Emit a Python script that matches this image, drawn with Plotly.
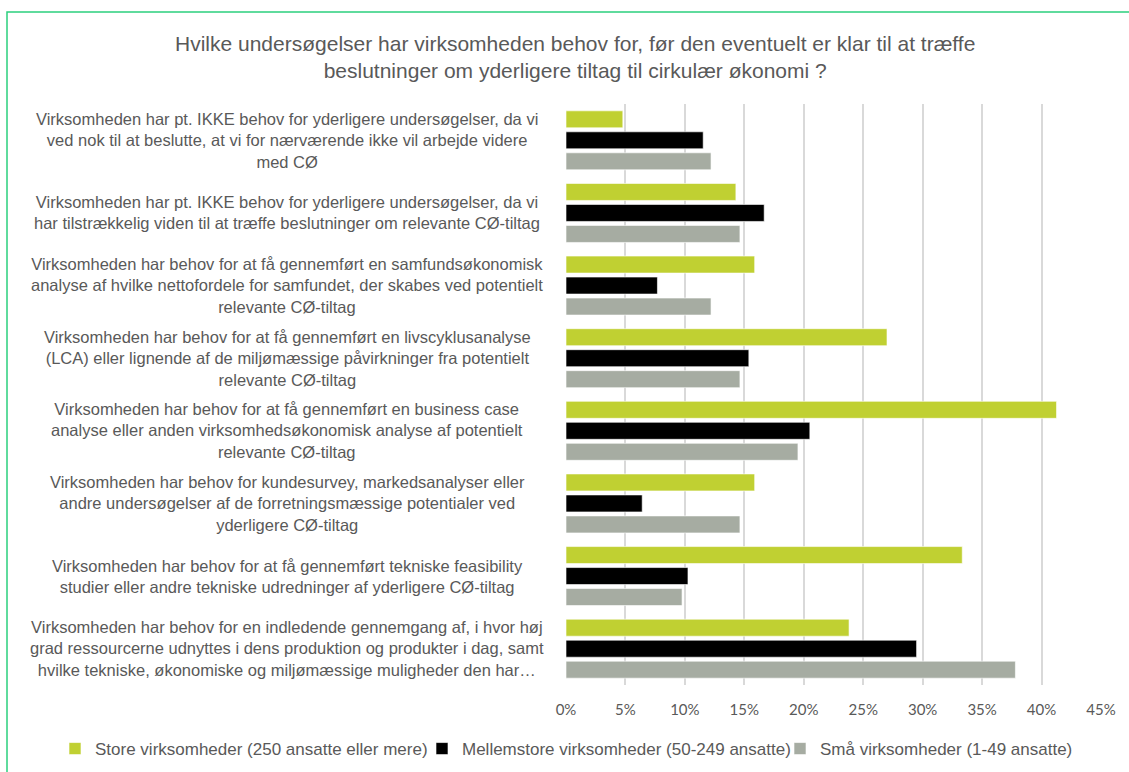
import plotly.graph_objects as go

categories = [
    "Virksomheden har pt. IKKE behov for yderligere undersøgelser, da vi<br>ved nok til at beslutte, at vi for nærværende ikke vil arbejde videre<br>med CØ",
    "Virksomheden har pt. IKKE behov for yderligere undersøgelser, da vi<br>har tilstrækkelig viden til at træffe beslutninger om relevante CØ-tiltag",
    "Virksomheden har behov for at få gennemført en samfundsøkonomisk<br>analyse af hvilke nettofordele for samfundet, der skabes ved potentielt<br>relevante CØ-tiltag",
    "Virksomheden har behov for at få gennemført en livscyklusanalyse<br>(LCA) eller lignende af de miljømæssige påvirkninger fra potentielt<br>relevante CØ-tiltag",
    "Virksomheden har behov for at få gennemført en business case<br>analyse eller anden virksomhedsøkonomisk analyse af potentielt<br>relevante CØ-tiltag",
    "Virksomheden har behov for kundesurvey, markedsanalyser eller<br>andre undersøgelser af de forretningsmæssige potentialer ved<br>yderligere CØ-tiltag",
    "Virksomheden har behov for at få gennemført tekniske feasibility<br>studier eller andre tekniske udredninger af yderligere CØ-tiltag",
    "Virksomheden har behov for en indledende gennemgang af, i hvor høj<br>grad ressourcerne udnyttes i dens produktion og produkter i dag, samt<br>hvilke tekniske, økonomiske og miljømæssige muligheder den har…",
]

store = [0.0478, 0.1429, 0.1587, 0.2700, 0.4126, 0.1587, 0.3333, 0.2381]
mellem = [0.1154, 0.1667, 0.0769, 0.1538, 0.2051, 0.0641, 0.1026, 0.2949]
smaa = [0.1220, 0.1463, 0.1220, 0.1463, 0.1951, 0.1463, 0.0976, 0.3780]

series_names = [
    "Store virksomheder (250 ansatte eller mere)",
    "Mellemstore virksomheder (50-249 ansatte)",
    "Små virksomheder (1-49 ansatte)",
]
series_colors = ["#C0D032", "#000000", "#A6ACA2"]
x_ticks = [0, 0.05, 0.10, 0.15, 0.20, 0.25, 0.30, 0.35, 0.40, 0.45]
x_tick_labels = ["0%", "5%", "10%", "15%", "20%", "25%", "30%", "35%", "40%", "45%"]

title_text = ("Hvilke undersøgelser har virksomheden behov for, før den eventuelt er klar til at træffe"
              "<br>beslutninger om yderligere tiltag til cirkulær økonomi ?")

FONT = "Liberation Sans, Arial, sans-serif"
TICKFONT = "Lato, Carlito, Calibri, sans-serif"
TXT = "#595959"

W, H = 1129, 772
L, R, T, B = 566, 28, 104, 87
pw = W - L - R
ph = H - T - B

legend_ids = ["legend", "legend2", "legend3"]
legend_text_x = [95, 462, 820]

fig = go.Figure()
for name, vals, col, lg in zip(series_names, [store, mellem, smaa], series_colors, legend_ids):
    fig.add_trace(go.Bar(
        y=categories, x=vals, name=name, orientation="h",
        marker=dict(color=col, line=dict(color="rgba(255,255,255,0.6)", width=1)),
        hoverinfo="x+name", legend=lg,
    ))

# centered multi-line category labels
for c in categories:
    fig.add_annotation(
        text=c, x=(287 - L) / pw, xref="paper", y=c, yref="y",
        xanchor="center", yanchor="middle", align="center", showarrow=False,
        font=dict(family=FONT, size=16.5, color=TXT),
    )

# title as centered two-line text
fig.add_annotation(
    text=title_text, xref="paper", yref="paper",
    x=(575 - L) / pw, y=1 + (T - 57) / ph,
    xanchor="center", yanchor="middle", align="center", showarrow=False,
    font=dict(family=FONT, size=21, color=TXT),
)

# outer green frame (partially outside the visible page, as in reference)
fig.add_shape(type="rect", xref="paper", yref="paper",
              x0=(7 - L) / pw, x1=(1140 - L) / pw,
              y0=-(790 - (H - B)) / ph, y1=1 + (T - 12) / ph,
              line=dict(color="#2BD07E", width=1.5), fillcolor="rgba(0,0,0,0)", layer="below")

legend_common = dict(orientation="h", xref="container", yref="container",
                     xanchor="left", yanchor="middle", y=1 - 749 / H,
                     font=dict(family=FONT, size=17, color=TXT), itemwidth=30,
                     bgcolor="rgba(0,0,0,0)")

fig.update_layout(
    width=W, height=H,
    margin=dict(l=L, r=R, t=T, b=B),
    paper_bgcolor="white", plot_bgcolor="white",
    barmode="group", bargap=0.133, bargroupgap=0.19,
    font=dict(family=FONT, color=TXT, size=15),
    xaxis=dict(range=[0, 0.45], tickvals=x_ticks, ticktext=x_tick_labels,
               showgrid=True, gridcolor="#D9D9D9", gridwidth=1.5,
               zeroline=False, showline=False, ticks="", ticklabelstandoff=14,
               tickfont=dict(family=TICKFONT, size=15, color=TXT)),
    yaxis=dict(autorange="reversed", showticklabels=False, showgrid=False,
               zeroline=False, showline=False, ticks=""),
    legend=dict(x=(legend_text_x[0] - 40) / W, **legend_common),
    legend2=dict(x=(legend_text_x[1] - 40) / W, **legend_common),
    legend3=dict(x=(legend_text_x[2] - 40) / W, **legend_common),
    showlegend=True,
)

fig.write_html("out.html", config={"displayModeBar": False},
               post_script="document.body.style.margin='0px';")
